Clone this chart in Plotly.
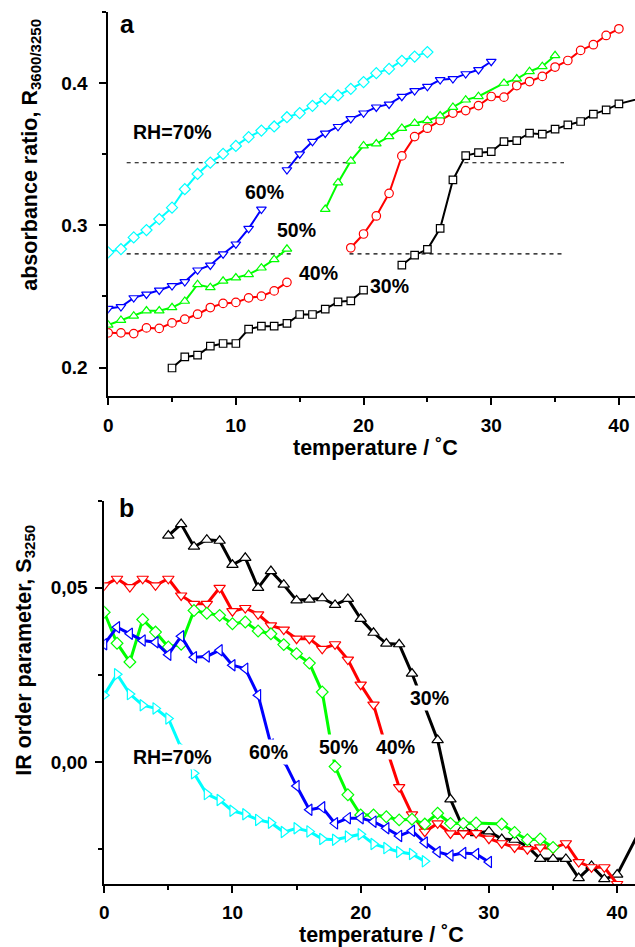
import plotly.graph_objects as go

# ---------------- panel a : absorbance ratio ----------------
Ta_70 = list(range(0, 26))
Ra_70 = [0.281, 0.2833, 0.2915, 0.2967, 0.3044, 0.3124, 0.3254, 0.3361, 0.3441, 0.3502,
         0.3558, 0.362, 0.3666, 0.3695, 0.376, 0.3789, 0.384, 0.389, 0.3913, 0.396,
         0.4007, 0.407, 0.410, 0.4157, 0.4187, 0.4218]

Ta_60 = list(range(0, 13)) + [None] + list(range(14, 31))
Ra_60 = [0.2415, 0.2427, 0.249, 0.2516, 0.2544, 0.2575, 0.2603, 0.2685, 0.272, 0.2798,
         0.2868, 0.2977, 0.3113, None,
         0.339, 0.3502, 0.3589, 0.3648, 0.3694, 0.3749, 0.3789, 0.3831, 0.3852, 0.3906,
         0.3946, 0.3976, 0.4023, 0.403, 0.4065, 0.4094, 0.4152]

Ta_50 = list(range(0, 15)) + [None] + list(range(17, 30)) + list(range(31, 36))
Ra_50 = [0.2299, 0.2333, 0.2363, 0.2399, 0.2399, 0.2422, 0.2467, 0.2584, 0.2563, 0.2608,
         0.2631, 0.2655, 0.2701, 0.276, 0.2833, None,
         0.3113, 0.33, 0.3453, 0.356, 0.3573, 0.3624, 0.3683, 0.3718, 0.3737, 0.377,
         0.3831, 0.3882, 0.3906,
         0.4, 0.403, 0.4082, 0.4117, 0.4194]

Ta_40 = list(range(0, 15)) + [None] + list(range(19, 41))
Ra_40 = [0.2244, 0.2244, 0.2239, 0.2279, 0.2275, 0.2314, 0.234, 0.2375, 0.2422, 0.2451,
         0.2458, 0.249, 0.2502, 0.2539, 0.2599, None,
         0.2842, 0.2939, 0.3066, 0.3225, 0.3488, 0.3624, 0.3683, 0.3737, 0.3789, 0.3807,
         0.3842, 0.3906, 0.3901, 0.3983, 0.4011, 0.4047, 0.4113, 0.4159, 0.423, 0.427,
         0.4335, 0.4382]

Ta_30 = list(range(5, 21)) + [None] + list(range(23, 41)) + [42]
Ra_30 = [0.1997, 0.2075, 0.2087, 0.215, 0.2169, 0.2169, 0.227, 0.2291, 0.2291, 0.231,
         0.2373, 0.2373, 0.2411, 0.2462, 0.2469, 0.2544, None,
         0.272, 0.2791, 0.2831, 0.2979, 0.3319, 0.349, 0.3511, 0.3518, 0.3589, 0.3596,
         0.3648, 0.3641, 0.3676, 0.3706, 0.373, 0.3782, 0.3812, 0.3854, 0.390]

# dashed guide lines (panel a)
guide_hi_T = [1.45, 19.0, None, 27.9, 35.7]
guide_hi_R = [0.344, 0.344, None, 0.344, 0.344]
guide_lo_T = [1.45, 14.6, None, 18.9, 35.7]
guide_lo_R = [0.28, 0.28, None, 0.28, 0.28]

# ---------------- panel b : IR order parameter ----------------
Tb_70 = list(range(0, 26))
Sb_70 = [0.0192, 0.0252, 0.0195, 0.0163, 0.0154, 0.0125, 0.0040, -0.0032, -0.0092, -0.0109,
         -0.014, -0.015, -0.0166, -0.0174, -0.0201, -0.019, -0.0199, -0.0221, -0.0223, -0.0214,
         -0.0207, -0.0235, -0.0247, -0.0258, -0.0264, -0.0285]

Tb_60 = list(range(0, 31))
Sb_60 = [0.0338, 0.0387, 0.0368, 0.0349, 0.0344, 0.0308, 0.0361, 0.0301, 0.0303, 0.0321,
         0.0278, 0.0268, 0.0192, 0.005, 0.0005, -0.0069, -0.0137, -0.013, -0.0176, -0.0161,
         -0.0161, -0.0171, -0.019, -0.0212, -0.0197, -0.0231, -0.0258, -0.0268, -0.0261, -0.0264,
         -0.0287]

Tb_50 = list(range(0, 30)) + list(range(31, 36))
Sb_50 = [0.043, 0.0341, 0.0287, 0.0409, 0.0373, 0.033, 0.0338, 0.0435, 0.0427, 0.0421,
         0.0397, 0.0402, 0.0376, 0.0368, 0.0337, 0.0311, 0.0284, 0.0201, -0.0013, -0.0094,
         -0.0152, -0.0152, -0.0157, -0.0166, -0.0164, -0.0178, -0.0147, -0.0176, -0.0176, -0.0175,
         -0.0178, -0.0202, -0.0223, -0.0221, -0.0245]

Tb_40 = list(range(0, 41))
Sb_40 = [0.0507, 0.0526, 0.0502, 0.0526, 0.0507, 0.0526, 0.0478, 0.0454, 0.0454, 0.05,
         0.0433, 0.0442, 0.0424, 0.0392, 0.038, 0.0354, 0.0354, 0.0325, 0.0338, 0.0294,
         0.0222, 0.0165, 0.004, -0.0072, -0.015, -0.02, -0.0176, -0.0205, -0.0205, -0.0204,
         -0.0220, -0.0233, -0.0245, -0.0250, -0.0245, -0.0248, -0.0233, -0.0287, -0.0302, -0.0302,
         -0.035]

Tb_30 = list(range(5, 41)) + [42]
Sb_30 = [0.065, 0.0683, 0.0618, 0.0638, 0.0635, 0.0566, 0.0586, 0.05, 0.0548, 0.0509,
         0.0464, 0.0466, 0.047, 0.0451, 0.0468, 0.0411, 0.0371, 0.034, 0.0338, 0.0254,
         0.016, 0.0063, -0.0107, -0.019, -0.0204, -0.0199, -0.0221, -0.0223, -0.0242, -0.0278,
         -0.0278, -0.0278, -0.0333, -0.0298, -0.0336, -0.0323, -0.018]

# ---------------- style ----------------
W, H = 635, 947
FONT = "Liberation Sans, Arial, Helvetica, sans-serif"
CYAN, BLUE, GREEN, RED, BLACK = "#00FFFF", "#0000FF", "#00FF00", "#FF0000", "#000000"

fig = go.Figure()


def add(x, y, color, symbol, size, lw, xa, ya):
    fig.add_trace(go.Scatter(
        x=x, y=y, mode="lines+markers", xaxis=xa, yaxis=ya,
        connectgaps=False, showlegend=False,
        line=dict(color=color, width=lw),
        marker=dict(symbol=symbol, size=size, color="white",
                    line=dict(color=color, width=1.2))))


# guide lines
for gx, gy in [(guide_hi_T, guide_hi_R), (guide_lo_T, guide_lo_R)]:
    fig.add_trace(go.Scatter(x=gx, y=gy, mode="lines", xaxis="x", yaxis="y",
                             showlegend=False, connectgaps=False,
                             line=dict(color="#000000", width=1.2, dash="4px,4px")))

# panel a series
add(Ta_30, Ra_30, BLACK, "square", 7.5, 2, "x", "y")
add(Ta_40, Ra_40, RED, "circle", 8.5, 2, "x", "y")
add(Ta_50, Ra_50, GREEN, "triangle-up", 8.5, 2, "x", "y")
add(Ta_60, Ra_60, BLUE, "triangle-down", 8.5, 2, "x", "y")
add(Ta_70, Ra_70, CYAN, "diamond", 8.5, 2, "x", "y")

# panel b series
add(Tb_30, Sb_30, BLACK, "triangle-up", 10, 3, "x2", "y2")
add(Tb_40, Sb_40, RED, "triangle-down", 10, 3, "x2", "y2")
add(Tb_50, Sb_50, GREEN, "diamond", 9, 3, "x2", "y2")
add(Tb_60, Sb_60, BLUE, "triangle-left", 10, 3, "x2", "y2")
add(Tb_70, Sb_70, CYAN, "triangle-right", 10, 3, "x2", "y2")

tickfont = dict(family=FONT, size=19, color="black", weight="bold")
common = dict(showline=True, linecolor="black", linewidth=1.5, showgrid=False,
              zeroline=False, ticks="outside", ticklen=7, tickwidth=1.5,
              tickcolor="black", tickfont=tickfont)
minor_x = dict(ticks="outside", ticklen=4, tickwidth=1.5, tickcolor="black",
               tickvals=[5, 15, 25, 35])


def px_x(p):
    return p / W


def px_y(p):
    return 1 - p / H


fig.update_layout(
    width=W, height=H, margin=dict(l=0, r=0, t=0, b=0),
    paper_bgcolor="white", plot_bgcolor="white",
    font=dict(family=FONT, color="black"),
    xaxis=dict(domain=[px_x(104), 1], range=[0, 41.26], anchor="y",
               tickvals=[0, 10, 20, 30, 40], minor=minor_x, ticklabelstandoff=4,
               **common),
    yaxis=dict(domain=[px_y(396), px_y(12)], range=[0.18, 0.45], anchor="x",
               tickvals=[0.2, 0.3, 0.4], ticktext=["0.2", "0.3", "0.4"],
               ticklabelstandoff=8,
               minor=dict(ticks="outside", ticklen=4, tickwidth=1.5, tickcolor="black",
                          tickvals=[0.25, 0.35, 0.45]),
               **common),
    xaxis2=dict(domain=[px_x(100), 1], range=[0, 41.39], anchor="y2",
                tickvals=[0, 10, 20, 30, 40], minor=minor_x, ticklabelstandoff=3,
                **common),
    yaxis2=dict(domain=[px_y(884), px_y(500.7)], range=[-0.035, 0.075], anchor="x2",
                tickvals=[0.0, 0.05], ticktext=["0,00", "0,05"], ticklabelstandoff=4,
                minor=dict(ticks="outside", ticklen=4, tickwidth=1.5, tickcolor="black",
                           tickvals=[-0.025, 0.025, 0.075]),
                **common),
)

labfont = dict(family=FONT, size=19.5, color="black", weight="bold")
ann = []
# curve labels panel a
for txt, x, y in [("RH=70%", 5.05, 0.3657), ("60%", 12.28, 0.3235), ("50%", 14.76, 0.2967),
                  ("40%", 16.47, 0.2664), ("30%", 22.07, 0.2573)]:
    ann.append(dict(text=txt, x=x, y=y, xref="x", yref="y", showarrow=False,
                    xanchor="center", yanchor="middle",
                    font=labfont, bgcolor="white", borderpad=1))
# curve labels panel b
for txt, x, y in [("RH=70%", 5.34, 0.0014), ("60%", 12.84, 0.0029), ("50%", 18.25, 0.0043),
                  ("40%", 22.74, 0.0043), ("30%", 25.37, 0.0183)]:
    ann.append(dict(text=txt, x=x, y=y, xref="x2", yref="y2", showarrow=False,
                    xanchor="center", yanchor="middle",
                    font=labfont, bgcolor="white", borderpad=1))

titlefont = dict(family=FONT, size=21.5, color="black", weight="bold")
letterfont = dict(family=FONT, size=25, color="black", weight="bold")


def paper_text(txt, xp, yp, font, angle=0):
    ann.append(dict(text=txt, x=px_x(xp), y=px_y(yp), xref="paper", yref="paper",
                    showarrow=False, xanchor="center", yanchor="middle",
                    textangle=angle, font=font))


# panel letters
paper_text("a", 123.5, 24, letterfont)
paper_text("b", 122, 508, letterfont)
# axis titles
paper_text("temperature / ˚C", 373, 448, titlefont)
paper_text("temperature / ˚C", 379, 935, titlefont)
paper_text("absorbance ratio, R<sub>3600/3250</sub>", 27, 155, titlefont, -90)
paper_text("IR order parameter, S<sub>3250</sub>", 20, 650, titlefont, -90)

fig.update_layout(annotations=ann)
fig.write_html("out.html")
